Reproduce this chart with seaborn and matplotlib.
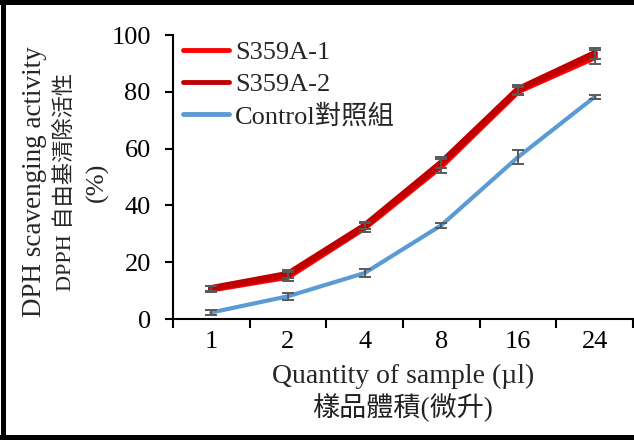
import numpy as np
import pandas as pd
import matplotlib
matplotlib.use("Agg")
import matplotlib.pyplot as plt
from matplotlib.lines import Line2D
import seaborn as sns

# Sample volumes (µl) and DPPH scavenging activity (%)
volumes = ["1", "2", "4", "8", "16", "24"]
s359a_1 = [10.5, 15.0, 32.3, 54.0, 80.3, 92.3]
s359a_1_err = [1.0, 1.5, 1.5, 2.5, 1.5, 2.5]
s359a_2 = [10.8, 15.8, 32.8, 55.0, 80.8, 93.5]
s359a_2_err = [0.8, 1.5, 1.2, 2.0, 1.5, 2.0]
control = [2.3, 8.0, 16.2, 33.0, 57.0, 78.2]
control_err = [1.0, 1.2, 1.5, 0.8, 2.5, 0.8]

series_names = ["S359A-1", "S359A-2", "Control對照組"]
series_values = [s359a_1, s359a_2, control]
series_errors = [s359a_1_err, s359a_2_err, control_err]
series_colors = ["#FF0000", "#C00000", "#5B9BD5"]
series_widths = [4.8, 4.8, 3.0]

sns.set_theme(style="white")
plt.rcParams["font.family"] = ["Liberation Serif", "Noto Sans CJK TC"]

W, H = 634, 440
fig = plt.figure(figsize=(W / 100, H / 100), dpi=100)
ax = fig.add_axes([173 / W, 1 - 319 / H, 460 / W, 284 / H])

df = pd.DataFrame({
    "volume": volumes * 3,
    "activity": s359a_1 + s359a_2 + control,
    "series": sum([[n] * len(volumes) for n in series_names], []),
})

pos = np.arange(len(volumes))
for name, vals, errs, col, lw in zip(series_names, series_values, series_errors,
                                      series_colors, series_widths):
    sub = df[df["series"] == name]
    sns.lineplot(data=sub, x="volume", y="activity", ax=ax, color=col,
                 linewidth=lw, label=name, sort=False, zorder=3)
    ax.errorbar(pos, vals, yerr=errs, fmt="none", ecolor="#595959",
                elinewidth=1.4, capsize=4.5, capthick=1.4, zorder=4)

ax.set_xlim(-0.5, len(volumes) - 0.5)
ax.set_ylim(0, 100)
ax.set_yticks([0, 20, 40, 60, 80, 100])
ax.set_xticks(pos)
ax.set_xticklabels(volumes)
ax.set_xticks(np.arange(len(volumes) + 1) - 0.5, minor=True)
ax.tick_params(axis="x", which="major", length=0, pad=9, labelsize=19,
               colors="black")
ax.tick_params(axis="x", which="minor", length=6.5, width=1.5,
               direction="out", bottom=True, color="black")
ax.tick_params(axis="y", which="major", length=6, width=1.5, direction="out",
               left=True, pad=10, labelsize=19, colors="black")
ax.set_xlabel("")
ax.set_ylabel("")
for side in ["top", "right"]:
    ax.spines[side].set_visible(False)
for side in ["left", "bottom"]:
    ax.spines[side].set_linewidth(1.5)
    ax.spines[side].set_color("black")
ax.grid(False)

leg = ax.legend(loc="upper left", bbox_to_anchor=(-0.012, 1.035), frameon=False,
                fontsize=19, handlelength=1.75, handletextpad=0.2,
                labelspacing=0.3, borderaxespad=0.2)
for h in leg.legend_handles:
    h.set_linewidth(3.5)

# Axis titles (English and Chinese lines)
fig.text(35 / W, 1 - 182 / H, "DPH scavenging activity", rotation=90,
         ha="center", va="center", fontsize=19.5)
fig.text(65 / W, 1 - 182 / H, "DPPH 自由基清除活性", rotation=90,
         ha="center", va="center", fontsize=16)
fig.text(97 / W, 1 - 182 / H, "(%)", rotation=90,
         ha="center", va="center", fontsize=19)
fig.text(403 / W, 1 - 376 / H, "Quantity of sample (µl)",
         ha="center", va="center", fontsize=20)
fig.text(403 / W, 1 - 408 / H, "樣品體積(微升)",
         ha="center", va="center", fontsize=19.5, color="#202020")

# Frame around the figure (top, left, bottom)
bw = 3.6
fig.add_artist(Line2D([0, 1], [1 - 2.5 / H, 1 - 2.5 / H], transform=fig.transFigure,
                      color="black", linewidth=bw))
fig.add_artist(Line2D([2.5 / W, 2.5 / W], [0, 1], transform=fig.transFigure,
                      color="black", linewidth=bw))
fig.add_artist(Line2D([0, 1], [3 / H, 3 / H], transform=fig.transFigure,
                      color="black", linewidth=bw))

fig.savefig("out.png", dpi=100, facecolor="white")
